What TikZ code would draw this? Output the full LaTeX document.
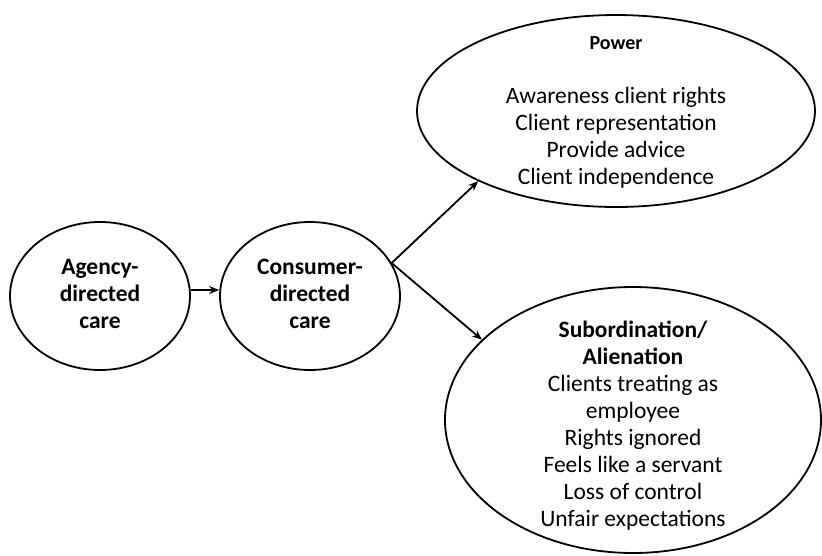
\documentclass[tikz,border=0pt]{standalone}
\usepackage{fontspec}
\setmainfont{Carlito}
\usetikzlibrary{shapes.geometric,arrows.meta}
\begin{document}
\begin{tikzpicture}[x=1pt,y=-1pt,
  bubble/.style={draw, ellipse, line width=1.8pt, inner sep=0pt},
  caption/.style={align=center, font=\fontsize{23.5}{27}\selectfont, inner sep=0pt},
  link/.style={line width=1.8pt, -{Stealth[length=10pt,width=8pt]}}]
\useasboundingbox (0,0) rectangle (822,555);

% the two care models
\node[bubble, minimum width=180pt, minimum height=148pt] (agency) at (100,296) {};
\node[caption] (agencytext) at (100,294) {\textbf{Agency-}\\\textbf{directed}\\\textbf{care}};
\node[bubble, minimum width=180pt, minimum height=148pt] (consumer) at (310,296) {};
\node[caption] (consumertext) at (310,294) {\textbf{Consumer-}\\\textbf{directed}\\\textbf{care}};

% outcomes
\node[bubble, minimum width=398pt, minimum height=192pt] (power) at (616,111) {};
\node[caption] (powertext) at (616,112) {{\fontsize{20}{27}\selectfont\textbf{Power}}\\[27pt]
  Awareness client rights\\Client representation\\Provide advice\\Client independence};
\node[bubble, minimum width=376pt, minimum height=266pt] (sub) at (633,420) {};
\node[caption] (subtext) at (633,426) {\textbf{Subordination/}\\\textbf{Alienation}\\
  Clients treating as\\employee\\Rights ignored\\Feels like a servant\\Loss of control\\Unfair expectations};

% connectors
\draw[link] ([yshift=6pt]agency.east) -- ([yshift=6pt]consumer.west);
\coordinate (fork) at (consumer.22);
\draw[link] (fork) -- (power.207);
\draw[link] (fork) -- (sub.152);
\end{tikzpicture}
\end{document}
